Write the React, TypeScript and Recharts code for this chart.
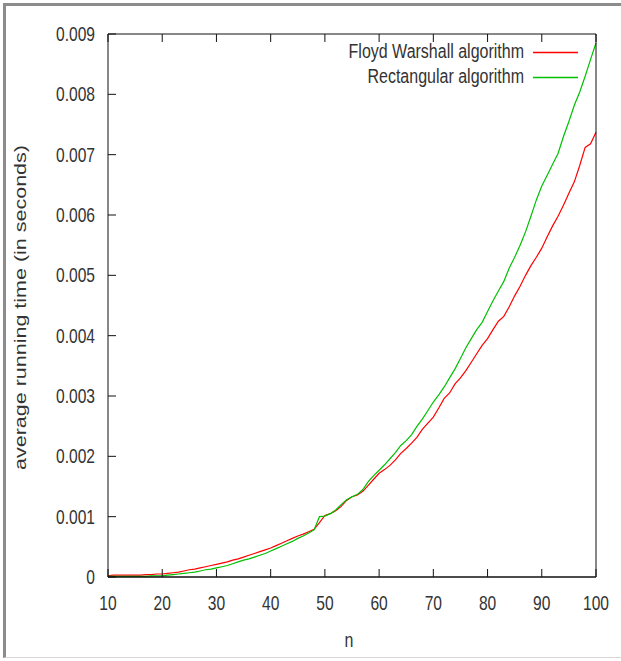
import { LineChart, Line, XAxis, YAxis, Legend } from "recharts";

const N_START = 10;
const floydMs = [
  0.02, 0.03, 0.03, 0.03, 0.03, 0.03, 0.03, 0.04, 0.04, 0.05,
  0.05, 0.06, 0.07, 0.08, 0.1, 0.12, 0.13, 0.15, 0.17, 0.19,
  0.21, 0.23, 0.25, 0.28, 0.3, 0.33, 0.36, 0.39, 0.42, 0.45,
  0.48, 0.52, 0.56, 0.6, 0.64, 0.68, 0.71, 0.75, 0.79, 0.9,
  1.02, 1.05, 1.1, 1.17, 1.27, 1.33, 1.36, 1.42, 1.52, 1.62,
  1.72, 1.78, 1.85, 1.94, 2.05, 2.13, 2.22, 2.32, 2.45, 2.55,
  2.65, 2.8, 2.96, 3.05, 3.2, 3.3, 3.42, 3.56, 3.7, 3.84,
  3.95, 4.1, 4.24, 4.32, 4.48, 4.66, 4.82, 5.0, 5.16, 5.3,
  5.45, 5.64, 5.82, 5.98, 6.16, 6.36, 6.55, 6.82, 7.12, 7.18,
  7.37,
];
const rectangularMs = [
  0.01, 0.01, 0.01, 0.01, 0.01, 0.01, 0.01, 0.01, 0.02, 0.02,
  0.02, 0.03, 0.04, 0.05, 0.06, 0.07, 0.08, 0.1, 0.12, 0.13,
  0.15, 0.17, 0.19, 0.22, 0.25, 0.28, 0.3, 0.33, 0.36, 0.39,
  0.43, 0.47, 0.51, 0.55, 0.59, 0.64, 0.68, 0.73, 0.78, 1.0,
  1.01, 1.05, 1.11, 1.2, 1.28, 1.33, 1.37, 1.45, 1.58, 1.68,
  1.77, 1.86, 1.96, 2.06, 2.18, 2.26, 2.36, 2.5, 2.62, 2.76,
  2.9, 3.02, 3.15, 3.3, 3.45, 3.62, 3.8, 3.95, 4.1, 4.22,
  4.4, 4.58, 4.74, 4.9, 5.12, 5.3, 5.5, 5.72, 5.98, 6.25,
  6.48, 6.66, 6.84, 7.02, 7.3, 7.55, 7.82, 8.04, 8.3, 8.58,
  8.85,
];
const xTicks = [10, 20, 30, 40, 50, 60, 70, 80, 90, 100];
const yTicks = [0, 0.001, 0.002, 0.003, 0.004, 0.005, 0.006, 0.007, 0.008, 0.009];

const data = floydMs.map((v, i) => ({
  n: N_START + i,
  floyd: v / 1000,
  rect: rectangularMs[i] / 1000,
}));

const FONT = "'Liberation Sans', Arial, sans-serif";
const TXT = "#333";
const AXIS = "#111";

const yFmt = (v: number) => (v === 0 ? "0" : v.toFixed(3));

const BottomTick = ({ x, y, payload }: any) => (
  <g>
    <line x1={x} y1={y} x2={x} y2={y - 8} stroke={AXIS} />
    <text transform={`translate(${x},${y + 33}) scale(0.78,1)`} textAnchor="middle" fontSize={20} fontFamily={FONT} fill={TXT}>
      {payload.value}
    </text>
  </g>
);

const LeftTick = ({ x, y, payload }: any) => (
  <g>
    <line x1={x} y1={y} x2={x + 8} y2={y} stroke={AXIS} />
    <text transform={`translate(${x - 13},${y + 7}) scale(0.78,1)`} textAnchor="end" fontSize={20} fontFamily={FONT} fill={TXT}>
      {yFmt(payload.value)}
    </text>
  </g>
);

const TopTick = ({ x, y }: any) => <line x1={x} y1={y} x2={x} y2={y + 8} stroke={AXIS} />;
const RightTick = ({ x, y }: any) => <line x1={x} y1={y} x2={x - 8} y2={y} stroke={AXIS} />;

const LegendBox = ({ payload }: any) => (
  <svg width={621} height={100}>
    {(payload || []).map((p: any, i: number) => (
      <g key={p.value}>
        <text transform={`translate(524,${58 + i * 25}) scale(0.8,1)`} textAnchor="end" fontSize={20} fontFamily={FONT} fill={TXT}>
          {p.value}
        </text>
        <line x1={533} x2={578} y1={52.5 + i * 25} y2={52.5 + i * 25} stroke={p.color} strokeWidth={1.3} />
      </g>
    ))}
  </svg>
);

export default function App() {
  return (
    <div style={{ position: "absolute", left: 0, top: 0, width: 621, height: 661, background: "#fff" }}>
      <div
        style={{
          position: "absolute",
          left: 3,
          top: 3,
          right: 0,
          bottom: 3,
          borderLeft: "3px solid #8c8c8c",
          borderTop: "3px solid #8c8c8c",
          borderBottom: "1px solid #d8d8d8",
        }}
      />
      <LineChart
        width={621}
        height={661}
        data={data}
        margin={{ top: 33, right: 24, left: 0, bottom: 0 }}
        style={{ position: "absolute", left: 0, top: 0 }}
      >
        <XAxis
          dataKey="n"
          type="number"
          domain={[10, 100]}
          ticks={xTicks}
          interval={0}
          height={84}
          tickSize={0}
          tickMargin={0}
          tickLine={false}
          tick={BottomTick}
          axisLine={{ stroke: AXIS, strokeWidth: 1.5 }}
          label={{
            content: ({ viewBox }: any) => (
              <text transform={`translate(${viewBox.x + viewBox.width / 2 - 3},${viewBox.y + 70}) scale(0.8,1)`} textAnchor="middle" fontSize={20} fontFamily={FONT} fill={TXT}>
                n
              </text>
            ),
          }}
        />
        <XAxis
          xAxisId="top"
          dataKey="n"
          type="number"
          orientation="top"
          domain={[10, 100]}
          ticks={xTicks}
          interval={0}
          height={1}
          tickSize={0}
          tickMargin={0}
          tickLine={false}
          tick={TopTick}
          axisLine={{ stroke: AXIS }}
        />
        <YAxis
          type="number"
          domain={[0, 0.009]}
          ticks={yTicks}
          interval={0}
          width={108}
          tickSize={0}
          tickMargin={0}
          tickLine={false}
          tick={LeftTick}
          axisLine={{ stroke: AXIS }}
          label={{
            content: ({ viewBox }: any) => (
              <text transform={`translate(${viewBox.x + 26},${viewBox.y + viewBox.height / 2 + 2}) rotate(-90) scale(1,0.74)`} textAnchor="middle" fontSize={21.5} fontFamily={FONT} fill={TXT}>
                average running time (in seconds)
              </text>
            ),
          }}
        />
        <YAxis
          yAxisId="right"
          orientation="right"
          type="number"
          domain={[0, 0.009]}
          ticks={yTicks}
          interval={0}
          width={1}
          tickSize={0}
          tickMargin={0}
          tickLine={false}
          tick={RightTick}
          axisLine={{ stroke: AXIS }}
        />
        <Legend
          layout="vertical"
          verticalAlign="middle"
          align="center"
          content={LegendBox}
          wrapperStyle={{ position: "absolute", left: 0, top: 0, width: 621, height: 100, margin: 0 }}
        />
        <Line
          dataKey="floyd"
          name="Floyd Warshall algorithm"
          stroke="#ff0000"
          strokeWidth={1.2}
          dot={false}
          type="linear"
          isAnimationActive={false}
        />
        <Line
          dataKey="rect"
          name="Rectangular algorithm"
          stroke="#00c000"
          strokeWidth={1.2}
          dot={false}
          type="linear"
          isAnimationActive={false}
        />
      </LineChart>
    </div>
  );
}
